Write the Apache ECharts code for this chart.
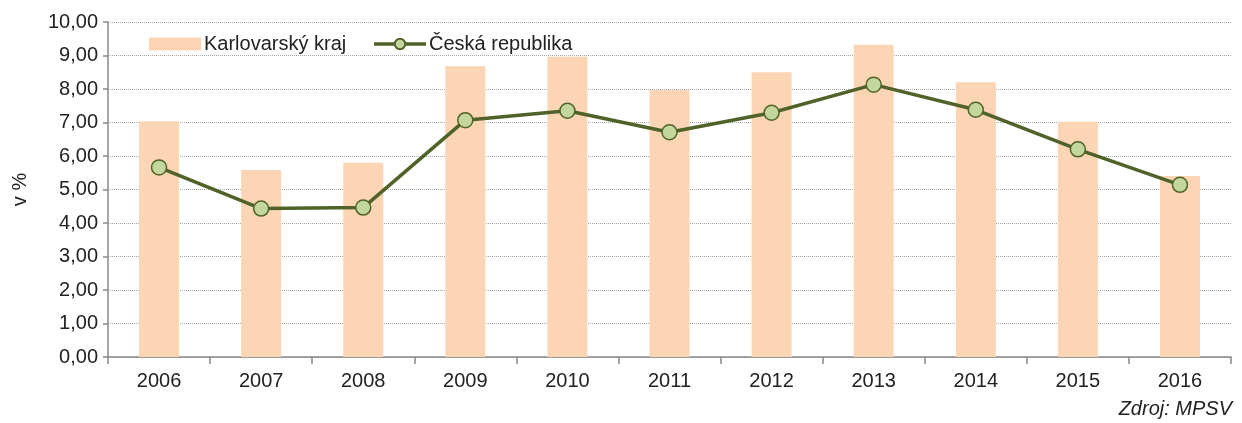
<!DOCTYPE html>
<html>
<head>
<meta charset="utf-8">
<script src="https://cdn.jsdelivr.net/npm/echarts@6/dist/echarts.min.js"></script>
<style>
  html, body { margin: 0; padding: 0; background: #fff; }
  #chart { width: 1242px; height: 423px; }
</style>
</head>
<body>
<div id="chart"></div>
<script>
// data
var years = ['2006', '2007', '2008', '2009', '2010', '2011', '2012', '2013', '2014', '2015', '2016'];
var karlovarsky = [7.04, 5.58, 5.80, 8.68, 8.96, 7.97, 8.50, 9.32, 8.20, 7.02, 5.40];
var ceskaRepublika = [5.66, 4.43, 4.46, 7.07, 7.35, 6.71, 7.29, 8.13, 7.38, 6.20, 5.14];
var seriesNames = ['Karlovarský kraj', 'Česká republika'];

function showChart(divId) {
	var chart = echarts.init(document.getElementById(divId));
	var option = genOption();
	if (option && typeof option === "object") {
		chart.setOption(option, true);
	}
}

function genOption() {
	var font = 'Liberation Sans, Arial, sans-serif';
	var fs = 20;
	var option = {
		animation : false,
		textStyle : {
			fontFamily : font
		},
		legend : {
			left : 144,
			top : 29,
			itemWidth : 52,
			itemHeight : 13,
			itemGap : 26,
			textStyle : {
				color : '#222',
				fontSize : fs,
				fontFamily : font,
				padding : [ 0, 0, 0, -2 ]
			},
			data : [ {
				name : seriesNames[0],
				icon : 'rect'
			}, {
				name : seriesNames[1],
				lineStyle : {
					width : 3.5
				}
			} ]
		},
		grid : {
			left : 108,
			right : 11,
			top : 22,
			bottom : 66,
			containLabel : false
		},
		xAxis : {
			type : 'category',
			data : years,
			axisLine : {
				lineStyle : {
					color : '#888',
					width : 1.5
				}
			},
			axisTick : {
				show : true,
				length : 7,
				lineStyle : {
					color : '#888',
					width : 1.5
				}
			},
			axisLabel : {
				color : '#222',
				fontSize : fs,
				margin : 14
			}
		},
		yAxis : {
			type : 'value',
			min : 0,
			max : 10,
			interval : 1,
			name : 'v %',
			nameLocation : 'middle',
			nameGap : 78,
			nameTextStyle : {
				color : '#222',
				fontSize : fs
			},
			axisLine : {
				show : true,
				lineStyle : {
					color : '#888',
					width : 1.5
				}
			},
			axisTick : {
				show : true,
				length : 5,
				lineStyle : {
					color : '#888',
					width : 1.5
				}
			},
			axisLabel : {
				color : '#222',
				fontSize : fs,
				margin : 10,
				formatter : function(v) {
					return v.toFixed(2).replace('.', ',');
				}
			},
			splitLine : {
				lineStyle : {
					color : '#a6a6a6',
					type : [ 1, 1 ],
					width : 1
				}
			}
		},
		graphic : [ {
			type : 'text',
			right : 10,
			top : 399,
			style : {
				text : 'Zdroj: MPSV',
				fill : '#222',
				font : 'italic ' + fs + 'px ' + font
			}
		} ],
		series : [ {
			name : seriesNames[0],
			type : 'bar',
			barWidth : 40,
			itemStyle : {
				color : '#FCD5B5'
			},
			data : karlovarsky
		}, {
			name : seriesNames[1],
			type : 'line',
			symbol : 'circle',
			symbolSize : 15,
			lineStyle : {
				color : '#4F6228',
				width : 3.5
			},
			itemStyle : {
				color : '#C3D69B',
				borderColor : '#4F6228',
				borderWidth : 1.5
			},
			data : ceskaRepublika
		} ]
	};
	return option;
}

showChart('chart');
</script>
</body>
</html>
